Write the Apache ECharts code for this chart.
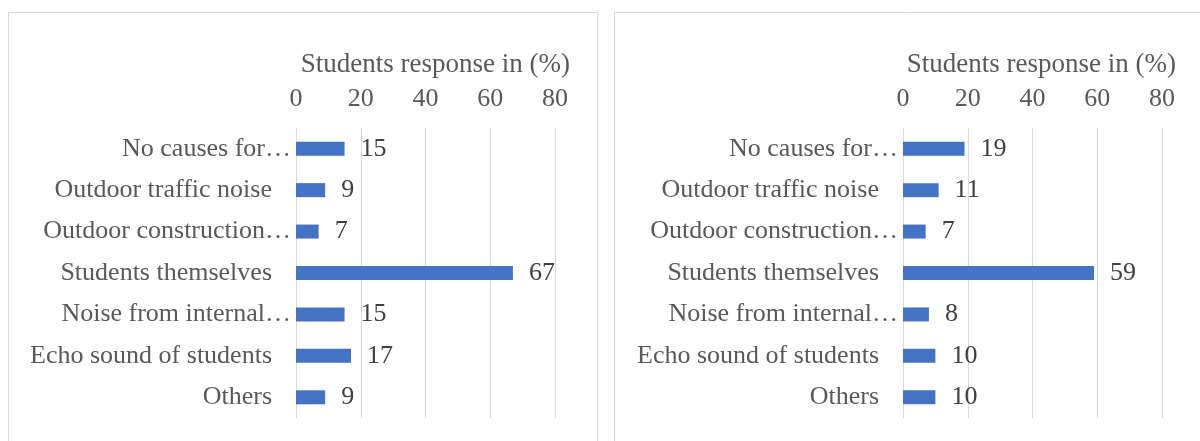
<!DOCTYPE html>
<html>
<head>
<meta charset="utf-8">
<script src="https://cdn.jsdelivr.net/npm/echarts@6/dist/echarts.min.js"></script>
<style>html,body{margin:0;padding:0;background:#fff}#c{width:1200px;height:441px}</style>
</head>
<body>
<div id="c"></div>
<script>
const categories = ['No causes for…', 'Outdoor traffic noise', 'Outdoor construction…', 'Students themselves', 'Noise from internal…', 'Echo sound of students', 'Others'];
const leftValues = [15, 9, 7, 67, 15, 17, 9];
const rightValues = [19, 11, 7, 59, 8, 10, 10];
const xTicks = [0, 20, 40, 60, 80];
const axisTitle = 'Students response in (%)';

const FONT = '"Liberation Serif", "Times New Roman", serif';
const chart = echarts.init(document.getElementById('c'));

function xAx(idx) {
  return {
    gridIndex: idx, type: 'value', position: 'top', min: xTicks[0], max: xTicks[xTicks.length - 1], interval: 20,
    axisLine: {show: false}, axisTick: {show: false},
    axisLabel: {margin: 16, fontFamily: FONT, fontSize: 26, color: '#595959'},
    splitLine: {show: true, lineStyle: {color: '#d9d9d9', width: 1}}
  };
}
function yAx(idx) {
  return {
    gridIndex: idx, type: 'category', inverse: true, data: categories,
    axisLine: {show: false}, axisTick: {show: false},
    axisLabel: {
      margin: 5, fontFamily: FONT, fontSize: 26, color: '#595959',
      formatter: v => v.endsWith('…') ? '{t|' + v + '}' : '{n|' + v + '}',
      rich: {
        t: {fontFamily: FONT, fontSize: 26, color: '#595959'},
        n: {fontFamily: FONT, fontSize: 26, color: '#595959', padding: [0, 19, 0, 0]}
      }
    }
  };
}
function ser(idx, vals) {
  return {
    type: 'bar', xAxisIndex: idx, yAxisIndex: idx, data: vals, barWidth: 14,
    itemStyle: {color: '#4472C4'},
    label: {show: true, position: 'right', distance: 16, fontFamily: FONT, fontSize: 26, color: '#404040'}
  };
}

chart.setOption({
  animation: false,
  backgroundColor: '#fff',
  title: [
    {text: axisTitle, right: 625, top: 46, textStyle: {fontFamily: FONT, fontSize: 27, fontWeight: 'normal', color: '#595959'}},
    {text: axisTitle, right: 19, top: 46, textStyle: {fontFamily: FONT, fontSize: 27, fontWeight: 'normal', color: '#595959'}}
  ],
  graphic: [
    {type: 'rect', shape: {x: 8.5, y: 12.5, width: 589, height: 440}, style: {fill: 'none', stroke: '#d9d9d9', lineWidth: 1}, silent: true},
    {type: 'rect', shape: {x: 614.5, y: 12.5, width: 600, height: 440}, style: {fill: 'none', stroke: '#d9d9d9', lineWidth: 1}, silent: true}
  ],
  grid: [
    {left: 296, width: 259, top: 128, height: 290},
    {left: 903, width: 259, top: 128, height: 290}
  ],
  xAxis: [xAx(0), xAx(1)],
  yAxis: [yAx(0), yAx(1)],
  series: [ser(0, leftValues), ser(1, rightValues)]
});
</script>
</body>
</html>
